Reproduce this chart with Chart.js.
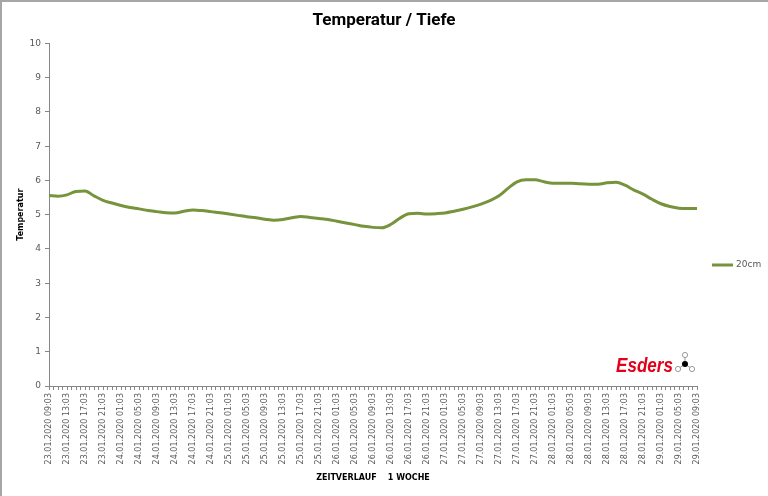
<!DOCTYPE html>
<html><head><meta charset="utf-8">
<script src="https://cdn.jsdelivr.net/npm/chart.js@4.4.1/dist/chart.umd.min.js"></script>
<style>html,body{margin:0;padding:0;background:#fff;overflow:hidden}canvas{display:block}</style>
</head><body>
<canvas id="c" width="768" height="496"></canvas>
<script>
// Tick labels (every 4 hours)
const tickLabels = [
"23.01.2020 09:03","23.01.2020 13:03","23.01.2020 17:03","23.01.2020 21:03",
"24.01.2020 01:03","24.01.2020 05:03","24.01.2020 09:03","24.01.2020 13:03","24.01.2020 17:03","24.01.2020 21:03",
"25.01.2020 01:03","25.01.2020 05:03","25.01.2020 09:03","25.01.2020 13:03","25.01.2020 17:03","25.01.2020 21:03",
"26.01.2020 01:03","26.01.2020 05:03","26.01.2020 09:03","26.01.2020 13:03","26.01.2020 17:03","26.01.2020 21:03",
"27.01.2020 01:03","27.01.2020 05:03","27.01.2020 09:03","27.01.2020 13:03","27.01.2020 17:03","27.01.2020 21:03",
"28.01.2020 01:03","28.01.2020 05:03","28.01.2020 09:03","28.01.2020 13:03","28.01.2020 17:03","28.01.2020 21:03",
"29.01.2020 01:03","29.01.2020 05:03","29.01.2020 09:03"
];
// Series "20cm": readings every 2 hours starting 23.01.2020 09:03
const seriesName = "20cm";
const temps20cm = [
5.56,5.54,5.58,5.68,5.69,5.55,5.42,5.34,5.27,5.21,
5.17,5.12,5.09,5.06,5.05,5.10,5.14,5.12,5.09,5.06,
5.02,4.98,4.94,4.91,4.87,4.84,4.86,4.91,4.95,4.92,
4.89,4.86,4.81,4.76,4.71,4.66,4.63,4.62,4.72,4.90,
5.03,5.04,5.02,5.03,5.05,5.10,5.16,5.23,5.31,5.41,
5.55,5.77,5.96,6.02,6.02,5.96,5.92,5.92,5.92,5.90,
5.89,5.89,5.93,5.95,5.86,5.72,5.60,5.45,5.32,5.24,
5.19,5.18,5.18
];
const sampleStepHours = 2;
const yTicks = [0,1,2,3,4,5,6,7,8,9,10];

const lineColor = '#77933C';
const axisColor = '#868686';
const textColor = '#595959';

const decor = {
  id: 'decor',
  beforeDraw(chart) {
    const ctx = chart.ctx;
    ctx.save();
    ctx.fillStyle = '#fff';
    ctx.fillRect(0, 0, chart.width, chart.height);
    ctx.fillStyle = '#a6a6a6';
    ctx.fillRect(0, 0, chart.width, 2);
    ctx.fillRect(0, 0, 2, chart.height);
    ctx.restore();
  },
  afterDraw(chart) {
    const ctx = chart.ctx;
    const ds = chart.data.datasets[0];
    ctx.save();
    // legend
    ctx.strokeStyle = ds.borderColor;
    ctx.lineWidth = 3;
    ctx.beginPath();
    ctx.moveTo(712, 265); ctx.lineTo(733, 265);
    ctx.stroke();
    ctx.fillStyle = textColor;
    ctx.font = '9px "DejaVu Sans"';
    ctx.textBaseline = 'middle';
    ctx.fillText(ds.label, 736, 265);
    // logo
    ctx.fillStyle = '#e3001b';
    ctx.font = 'italic bold 21px "Liberation Sans"';
    ctx.textBaseline = 'alphabetic';
    const w = ctx.measureText('Esders').width;
    ctx.save();
    ctx.translate(616, 372);
    ctx.scale(57 / w, 1);
    ctx.fillText('Esders', 0, 0);
    ctx.restore();
    // molecule icon
    ctx.lineWidth = 1;
    ctx.strokeStyle = '#9a9a9a';
    const cx = 685, cy = 364;
    const pts = [[685,355],[678,369],[692,369]];
    ctx.beginPath();
    pts.forEach(p => { ctx.moveTo(cx, cy); ctx.lineTo(p[0], p[1]); });
    ctx.stroke();
    pts.forEach(p => { ctx.beginPath(); ctx.fillStyle='#fff'; ctx.arc(p[0], p[1], 2.6, 0, Math.PI*2); ctx.fill(); ctx.stroke(); });
    ctx.beginPath(); ctx.fillStyle = '#000'; ctx.arc(cx, cy, 3, 0, Math.PI*2); ctx.fill();
    ctx.restore();
  }
};

new Chart(document.getElementById('c'), {
  type: 'line',
  data: {
    datasets: [{
      label: seriesName,
      data: temps20cm.map((v, i) => ({ x: i * sampleStepHours, y: v })),
      borderColor: lineColor,
      backgroundColor: lineColor,
      borderWidth: 3,
      pointRadius: 0,
      tension: 0.4,
      cubicInterpolationMode: 'monotone',
      fill: false
    }]
  },
  options: {
    responsive: false,
    animation: false,
    layout: { padding: { left: 0, right: 0, top: 6, bottom: 13 } },
    plugins: {
      legend: { display: false },
      tooltip: { enabled: false },
      title: {
        display: true,
        text: 'Temperatur / Tiefe',
        color: '#000',
        font: { family: 'Roboto', size: 17, weight: 'bold' },
        padding: { top: 5, bottom: 12 }
      }
    },
    scales: {
      x: {
        type: 'linear',
        min: 0,
        max: (tickLabels.length - 1) * 4,
        afterBuildTicks(scale) {
          const t = [];
          for (let h = 0; h <= scale.max; h++) t.push({ value: h });
          scale.ticks = t;
        },
        afterFit(scale) { scale.height = 97; },
        ticks: {
          autoSkip: false,
          maxRotation: 90,
          minRotation: 90,
          padding: 3,
          color: textColor,
          font: { family: '"DejaVu Sans"', size: 8 },
          callback: (v) => (v % 4 === 0 ? tickLabels[v / 4] : '')
        },
        grid: { drawOnChartArea: false, drawTicks: true, tickLength: 4, color: axisColor },
        border: { display: true, color: axisColor, width: 1 },
        title: {
          display: true,
          text: 'ZEITVERLAUF    1 WOCHE',
          color: '#000',
          font: { family: '"DejaVu Sans"', size: 8, weight: 'bold' },
          padding: { top: 2, bottom: 0 }
        }
      },
      y: {
        min: 0, max: 10,
        afterBuildTicks(scale) { scale.ticks = yTicks.map(v => ({ value: v })); },
        afterFit(scale) { scale.width = 49; },
        ticks: { color: textColor, font: { family: '"DejaVu Sans"', size: 9 }, padding: 4 },
        grid: { drawOnChartArea: false, drawTicks: true, tickLength: 4, color: axisColor },
        border: { display: true, color: axisColor, width: 1 },
        title: {
          display: true,
          text: 'Temperatur',
          color: '#000',
          font: { family: '"DejaVu Sans"', size: 8, weight: 'bold' },
          padding: { top: 16, bottom: 6 }
        }
      },
      legendSpace: {
        type: 'linear',
        position: 'right',
        display: true,
        afterFit(scale) { scale.width = 71; },
        ticks: { display: false },
        grid: { display: false, drawTicks: false },
        border: { display: false }
      }
    }
  },
  plugins: [decor]
});
</script>
</body></html>
